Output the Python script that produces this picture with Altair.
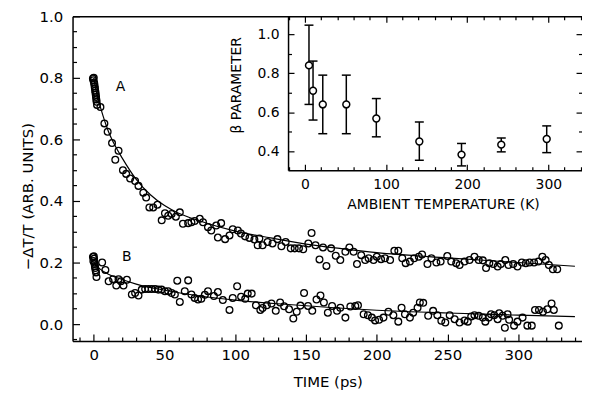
import altair as alt
import pandas as pd

# ---------------- data ----------------
# Series A (time in ps, -dT/T)
tA = [-0.6, -0.3, 0.0, 0.2, 0.4, 0.6, 0.8, 1.0, 1.2, 1.4, 1.6, 1.8, 2.0, 2.3,
      4.7, 7.5, 9.8, 12.9, 15.2, 17.5, 20.6, 22.9, 25.7, 29.2, 31.6, 35.0, 37.0,
      39.3, 42.0, 45.0, 48.0, 50.3, 52.6, 55.0, 58.0, 60.8, 63.0, 66.7, 69.0,
      71.3, 74.9, 77.2, 80.7, 83.0, 86.5, 87.7, 90.0, 92.8, 95.9, 98.2, 101.8,
      104.0, 106.9, 110.0, 113.5, 115.8, 117.0, 119.3, 122.8, 126.3, 129.8,
      132.6, 135.6, 139.2, 142.0, 145.0, 148.0, 151.6, 153.9, 156.7, 159.5,
      162.0, 164.4, 167.7, 171.0, 174.2, 177.8, 180.6, 183.6, 186.0, 189.0,
      191.8, 194.2, 197.7, 200.0, 203.0, 205.8, 209.4, 212.4, 215.2, 218.0,
      220.4, 223.4, 226.4, 229.7, 232.0, 235.8, 238.6, 242.1, 245.1, 249.8,
      252.6, 256.1, 258.5, 262.0, 265.5, 269.0, 272.0, 274.9, 277.2, 279.5,
      282.3, 285.4, 287.7, 290.8, 293.1, 296.4, 299.4, 302.5, 305.3, 308.0,
      311.1, 314.2, 317.0, 319.3, 321.6, 324.4, 327.5]
vA = [0.798, 0.792, 0.800, 0.785, 0.780, 0.772, 0.766, 0.758, 0.752, 0.745,
      0.738, 0.730, 0.722, 0.712,
      0.705, 0.652, 0.625, 0.588, 0.534, 0.563, 0.500, 0.488, 0.473, 0.465,
      0.449, 0.427, 0.411, 0.379, 0.379, 0.388, 0.337, 0.360, 0.352, 0.358,
      0.349, 0.363, 0.326, 0.328, 0.331, 0.335, 0.342, 0.331, 0.315, 0.304,
      0.320, 0.281, 0.328, 0.276, 0.288, 0.308, 0.304, 0.294, 0.285, 0.280,
      0.275, 0.256, 0.278, 0.256, 0.267, 0.262, 0.276, 0.253, 0.267, 0.246,
      0.246, 0.246, 0.243, 0.262, 0.296, 0.256, 0.210, 0.249, 0.189, 0.246,
      0.222, 0.208, 0.235, 0.249, 0.235, 0.195, 0.224, 0.208, 0.214, 0.208,
      0.219, 0.211, 0.214, 0.208, 0.238, 0.238, 0.214, 0.198, 0.203, 0.214,
      0.219, 0.226, 0.195, 0.214, 0.200, 0.203, 0.221, 0.203, 0.198, 0.192,
      0.203, 0.208, 0.219, 0.208, 0.207, 0.182, 0.198, 0.195, 0.187, 0.195,
      0.208, 0.192, 0.195, 0.187, 0.200, 0.198, 0.200, 0.200, 0.203, 0.219,
      0.208, 0.192, 0.178, 0.178]

# Series B
tB = [-0.6, -0.3, 0.0, 0.2, 0.4, 0.6, 0.8, 1.0, 1.3, 1.6, 1.9,
      5.9, 8.2, 10.5, 13.6, 15.9, 17.5, 19.2, 21.0, 23.4, 26.9, 29.2, 31.6,
      33.9, 36.3, 38.6, 40.9, 43.3, 45.6, 47.9, 50.3, 52.6, 55.0, 57.3, 59.0,
      60.8, 64.3, 66.7, 69.0, 71.3, 73.7, 76.0, 78.5, 80.7, 84.9, 87.7, 91.2,
      95.9, 98.2, 101.3, 104.1, 107.0, 108.8, 111.6, 114.6, 117.7, 119.3,
      122.3, 125.6, 128.6, 131.7, 134.5, 138.0, 141.0, 143.4, 146.0, 148.6,
      151.4, 154.4, 157.4, 160.2, 162.6, 165.4, 168.4, 171.9, 174.2, 177.8,
      181.3, 184.8, 186.7, 190.7, 193.7, 196.5, 198.8, 201.6, 204.7, 208.2,
      211.7, 215.2, 217.5, 219.9, 223.4, 225.7, 228.8, 230.4, 232.8, 236.3,
      239.8, 242.8, 245.6, 248.4, 251.5, 255.0, 258.5, 262.0, 264.3, 266.7,
      269.0, 272.0, 274.9, 276.7, 279.1, 280.7, 283.0, 285.4, 286.5, 288.9,
      290.5, 292.4, 293.5, 297.0, 299.4, 303.0, 306.4, 309.5, 311.8, 314.6,
      317.4, 320.5, 323.5, 325.1, 328.6]
vB = [0.218, 0.205, 0.220, 0.212, 0.200, 0.195, 0.188, 0.182, 0.175, 0.168,
      0.153,
      0.200, 0.176, 0.139, 0.146, 0.125, 0.146, 0.139, 0.125, 0.144, 0.096,
      0.101, 0.093, 0.112, 0.114, 0.114, 0.114, 0.114, 0.112, 0.112, 0.107,
      0.107, 0.101, 0.096, 0.141, 0.072, 0.107, 0.142, 0.096, 0.085, 0.080,
      0.082, 0.095, 0.107, 0.091, 0.104, 0.078, 0.046, 0.085, 0.123, 0.089,
      0.082, 0.099, 0.099, 0.061, 0.046, 0.052, 0.061, 0.067, 0.043, 0.070,
      0.058, 0.048, 0.018, 0.040, 0.060, 0.101, 0.059, 0.043, 0.080, 0.093,
      0.070, 0.037, 0.059, 0.043, 0.053, 0.021, 0.057, 0.059, 0.061, 0.032,
      0.029, 0.021, 0.012, 0.014, 0.021, 0.040, 0.029, 0.008, 0.053, 0.032,
      0.021, 0.037, 0.053, 0.070, 0.069, 0.027, 0.043, 0.029, 0.011, 0.005,
      0.029, 0.016, 0.005, 0.012, 0.008, 0.025, 0.029, 0.027, 0.021, 0.008,
      0.021, 0.032, 0.029, 0.016, 0.035, 0.027, -0.012, 0.032, 0.014, -0.005,
      0.008, 0.021, -0.005, -0.005, 0.046, 0.046, 0.040, 0.048, 0.067, 0.046,
      -0.005]

# Fit curves
tFitA = [0, 2, 5, 10, 15, 20, 30, 40, 50, 60, 75, 100, 125, 150, 175, 200,
         250, 300, 340]
vFitA = [0.80, 0.75, 0.70, 0.63, 0.58, 0.54, 0.47, 0.42, 0.385, 0.36, 0.335,
         0.302, 0.28, 0.26, 0.245, 0.232, 0.215, 0.200, 0.188]
tFitB = [0, 5, 10, 20, 30, 50, 80, 100, 130, 170, 200, 250, 300, 340]
vFitB = [0.20, 0.177, 0.163, 0.145, 0.13, 0.11, 0.088, 0.078, 0.066, 0.053,
         0.045, 0.036, 0.029, 0.024]

# Inset: beta parameter vs ambient temperature
tempK = [5, 10, 22, 51, 88, 141, 193, 242, 298]
beta = [0.84, 0.71, 0.64, 0.64, 0.568, 0.45, 0.383, 0.434, 0.463]
betaHi = [1.046, 0.862, 0.79, 0.79, 0.67, 0.55, 0.44, 0.468, 0.53]
betaLo = [0.64, 0.56, 0.49, 0.49, 0.474, 0.354, 0.325, 0.397, 0.393]

curveLabels = ["A", "B"]
labelT = [15.5, 19.9]
labelV = [0.769, 0.217]

# tick values
mainXMajor = [0, 50, 100, 150, 200, 250, 300]
mainXMinor = [-10, 10, 20, 30, 40, 60, 70, 80, 90, 110, 120, 130, 140, 160,
              170, 180, 190, 210, 220, 230, 240, 260, 270, 280, 290, 310, 320,
              330, 340]
mainYMajor = [0.0, 0.2, 0.4, 0.6, 0.8, 1.0]
mainYMinor = [-0.05, 0.05, 0.1, 0.15, 0.25, 0.3, 0.35, 0.45, 0.5, 0.55, 0.65,
              0.7, 0.75, 0.85, 0.9, 0.95]
insXMajor = [0, 100, 200, 300]
insXMinor = [-20, 20, 40, 60, 80, 120, 140, 160, 180, 220, 240, 260, 280, 320,
             340]
insYMajor = [0.4, 0.6, 0.8, 1.0]
insYMinor = [0.5, 0.7, 0.9]

# ---------------- layout ----------------
W, H = 513, 327          # main plot area
IL, IB = 217, 155        # inset left edge / bottom edge (pixels in plot area)
FONT = "DejaVu Sans"

sx = alt.Scale(domain=[-15, 345], nice=False, zero=False)
sy = alt.Scale(domain=[-0.055, 1.0], nice=False, zero=False)
isx = alt.Scale(domain=[-20.8, 341.5], range=[IL, W], nice=False, zero=False)
isy = alt.Scale(domain=[0.303, 1.0915], range=[IB, 0], nice=False, zero=False)


def tick_axis(orient, offset, values, size):
    return alt.Axis(orient=orient, offset=offset, values=values, tickSize=size,
                    tickWidth=1.2, tickColor="black", labels=False,
                    domain=False, grid=False, title=None)


def axis_layer(xs, ys, xaxis, yaxis, xv, yv):
    d = pd.DataFrame({"x": [xv], "y": [yv]})
    return alt.Chart(d).mark_point(opacity=0).encode(
        x=alt.X("x:Q", scale=xs, axis=xaxis),
        y=alt.Y("y:Q", scale=ys, axis=yaxis))


# main axes
mx_lab = alt.Axis(orient="bottom", values=mainXMajor, ticks=False, tickSize=0,
                  domain=True, domainColor="black", domainWidth=1.5,
                  grid=False, labelPadding=7, labelFontSize=15,
                  labelFont=FONT, labelColor="black", title="TIME (ps)",
                  titleFont=FONT, titleFontSize=15, titleFontWeight="normal",
                  titleColor="black", titleX=257, titleY=41,
                  titleBaseline="middle", titleAlign="center")
my_lab = alt.Axis(orient="left", values=mainYMajor, format=".1f", ticks=False,
                  tickSize=0, domain=True, domainColor="black",
                  domainWidth=1.5, grid=False, labelPadding=10,
                  labelFontSize=15, labelFont=FONT, labelColor="black",
                  title="−ΔT/T (ARB. UNITS)", titleFont=FONT, titleFontSize=15,
                  titleFontWeight="normal", titleColor="black", titleX=-45,
                  titleY=181, titleAngle=270, titleBaseline="middle",
                  titleAlign="center")
mx_top = alt.Axis(orient="top", ticks=False, labels=False, domain=True,
                  domainColor="black", domainWidth=1.5, grid=False,
                  title=None)
# inset axes
ix_lab = alt.Axis(orient="bottom", offset=-(H - IB), values=insXMajor,
                  ticks=False, tickSize=0, domain=True, domainColor="black",
                  domainWidth=1.5, grid=False, labelPadding=7,
                  labelFontSize=14, labelFont=FONT, labelColor="black",
                  title="AMBIENT TEMPERATURE (K)", titleFont=FONT,
                  titleFontSize=14, titleFontWeight="normal",
                  titleColor="black", titleX=373, titleY=35,
                  titleBaseline="middle", titleAlign="center")
iy_lab = alt.Axis(orient="left", offset=-IL, values=insYMajor, format=".1f",
                  ticks=False, tickSize=0, domain=True, domainColor="black",
                  domainWidth=1.5, grid=False, labelPadding=9,
                  labelFontSize=14, labelFont=FONT, labelColor="black",
                  title="β PARAMETER", titleFont=FONT, titleFontSize=14,
                  titleFontWeight="normal", titleColor="black", titleX=-52,
                  titleY=69, titleAngle=270, titleBaseline="middle",
                  titleAlign="center")

layers = [
    axis_layer(sx, sy, mx_lab, my_lab, 0, 0),
    axis_layer(sx, sy, tick_axis("top", -H, mainXMajor, 7),
               tick_axis("right", -W, mainYMajor, 7), 0, 0),
    axis_layer(sx, sy, tick_axis("top", -H, mainXMinor, 4),
               tick_axis("right", -W, mainYMinor, 4), 0, 0),
    axis_layer(sx, sy, mx_top, None, 0, 0),
    axis_layer(isx, isy, ix_lab, iy_lab, 100, 0.6),
    axis_layer(isx, isy, tick_axis("top", -IB, insXMajor, 6),
               tick_axis("right", IL - W, insYMajor, 6), 100, 0.6),
    axis_layer(isx, isy, tick_axis("top", -IB, insXMinor, 3.5),
               tick_axis("right", IL - W, insYMinor, 3.5), 100, 0.6),
    axis_layer(isx, isy, tick_axis("bottom", -H, insXMajor, 6),
               tick_axis("left", -W, insYMajor, 6), 100, 0.6),
    axis_layer(isx, isy, tick_axis("bottom", -H, insXMinor, 3.5),
               tick_axis("left", -W, insYMinor, 3.5), 100, 0.6),
]

dfA = pd.DataFrame({"t": tA, "v": vA})
dfB = pd.DataFrame({"t": tB, "v": vB})
fitA = pd.DataFrame({"t": tFitA, "v": vFitA})
fitB = pd.DataFrame({"t": tFitB, "v": vFitB})
ins = pd.DataFrame({"T": tempK, "b": beta, "hi": betaHi, "lo": betaLo})
lab = pd.DataFrame({"t": labelT, "v": labelV, "s": curveLabels})

for fit in (fitA, fitB):
    layers.append(alt.Chart(fit).mark_line(color="black", strokeWidth=1.2,
                                           interpolate="monotone").encode(
        x=alt.X("t:Q", scale=sx, axis=None),
        y=alt.Y("v:Q", scale=sy, axis=None)))

for df in (dfA, dfB):
    layers.append(alt.Chart(df).mark_point(shape="circle", filled=False,
                                           color="black", size=46,
                                           strokeWidth=1.3, opacity=1).encode(
        x=alt.X("t:Q", scale=sx, axis=None),
        y=alt.Y("v:Q", scale=sy, axis=None)))

layers.append(alt.Chart(lab).mark_text(font=FONT, fontSize=14, color="black",
                                       align="left", baseline="middle").encode(
    x=alt.X("t:Q", scale=sx, axis=None),
    y=alt.Y("v:Q", scale=sy, axis=None),
    text="s:N"))

layers.append(alt.Chart(ins).mark_rule(color="black", strokeWidth=1.5).encode(
    x=alt.X("T:Q", scale=isx, axis=None),
    y=alt.Y("lo:Q", scale=isy, axis=None),
    y2="hi:Q"))
for col in ("hi", "lo"):
    layers.append(alt.Chart(ins).mark_tick(orient="horizontal", color="black",
                                           size=9, thickness=1.5,
                                           opacity=1).encode(
        x=alt.X("T:Q", scale=isx, axis=None),
        y=alt.Y(f"{col}:Q", scale=isy, axis=None)))
layers.append(alt.Chart(ins).mark_point(shape="circle", filled=True,
                                        fill="white", stroke="black",
                                        strokeWidth=1.5, size=48,
                                        opacity=1).encode(
    x=alt.X("T:Q", scale=isx, axis=None),
    y=alt.Y("b:Q", scale=isy, axis=None)))

chart = alt.layer(*layers).resolve_scale(
    x="independent", y="independent"
).properties(
    width=W, height=H,
    autosize=alt.AutoSizeParams(type="none"),
    padding={"left": 65, "top": 7, "right": 0, "bottom": 50},
    background="white",
).configure_view(strokeWidth=0)

chart.save("out.html", embed_options={"renderer": "svg", "actions": False})
